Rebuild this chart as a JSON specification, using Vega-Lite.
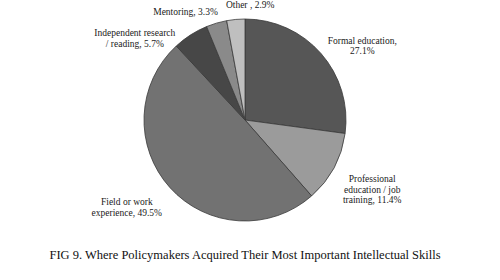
{
  "$schema": "https://vega.github.io/schema/vega-lite/v6.json",
  "width": 490,
  "height": 240,
  "autosize": {"type": "none"},
  "padding": {"left": 0, "top": 0, "right": 10, "bottom": 40},
  "background": "white",
  "title": {
    "text": "FIG 9. Where Policymakers Acquired Their Most Important Intellectual Skills",
    "orient": "bottom",
    "anchor": "middle",
    "font": "Liberation Serif",
    "fontSize": 12.5,
    "fontWeight": "normal",
    "color": "#111111",
    "baseline": "top",
    "offset": 9
  },
  "data": {
    "values": [
      {"order": 1, "source": "Formal education", "value": 27.1, "label": "Formal education,\n27.1%"},
      {"order": 2, "source": "Professional education / job training", "value": 11.4, "label": "Professional\neducation / job\ntraining, 11.4%"},
      {"order": 3, "source": "Field or work experience", "value": 49.5, "label": "Field or work\nexperience, 49.5%"},
      {"order": 4, "source": "Independent research / reading", "value": 5.7, "label": "Independent research\n/ reading, 5.7%"},
      {"order": 5, "source": "Mentoring", "value": 3.3, "label": "Mentoring, 3.3%"},
      {"order": 6, "source": "Other", "value": 2.9, "label": "Other , 2.9%"}
    ]
  },
  "encoding": {
    "theta": {"field": "value", "type": "quantitative", "stack": true},
    "order": {"field": "order", "type": "quantitative", "sort": "ascending"}
  },
  "layer": [
    {
      "mark": {"type": "arc", "outerRadius": 101, "stroke": "#3a3a3a", "strokeWidth": 0.8},
      "encoding": {
        "color": {
          "field": "source",
          "type": "nominal",
          "legend": null,
          "scale": {
            "domain": ["Formal education", "Professional education / job training", "Field or work experience", "Independent research / reading", "Mentoring", "Other"],
            "range": ["#565656", "#9b9b9b", "#727272", "#474747", "#8a8a8a", "#bfbfbf"]
          }
        }
      }
    },
    {
      "mark": {"type": "text", "radius": 108, "dx": 36, "dy": -8, "align": "center", "baseline": "middle", "lineBreak": "\n", "font": "Liberation Serif", "fontSize": 9.5, "lineHeight": 10.5, "color": "#1a1a1a"},
      "encoding": {"text": {"condition": {"test": "datum.order === 1", "field": "label"}, "value": ""}}
    },
    {
      "mark": {"type": "text", "radius": 108, "dx": 32, "dy": 8, "align": "center", "baseline": "middle", "lineBreak": "\n", "font": "Liberation Serif", "fontSize": 9.5, "lineHeight": 10.5, "color": "#1a1a1a"},
      "encoding": {"text": {"condition": {"test": "datum.order === 2", "field": "label"}, "value": ""}}
    },
    {
      "mark": {"type": "text", "radius": 108, "dx": -38, "dy": 10, "align": "center", "baseline": "middle", "lineBreak": "\n", "font": "Liberation Serif", "fontSize": 9.5, "lineHeight": 10.5, "color": "#1a1a1a"},
      "encoding": {"text": {"condition": {"test": "datum.order === 3", "field": "label"}, "value": ""}}
    },
    {
      "mark": {"type": "text", "radius": 108, "dx": -52, "dy": 4, "align": "center", "baseline": "middle", "lineBreak": "\n", "font": "Liberation Serif", "fontSize": 9.5, "lineHeight": 10.5, "color": "#1a1a1a"},
      "encoding": {"text": {"condition": {"test": "datum.order === 4", "field": "label"}, "value": ""}}
    },
    {
      "mark": {"type": "text", "radius": 108, "dx": -29, "dy": -4, "align": "center", "baseline": "middle", "lineBreak": "\n", "font": "Liberation Serif", "fontSize": 9.5, "lineHeight": 10.5, "color": "#1a1a1a"},
      "encoding": {"text": {"condition": {"test": "datum.order === 5", "field": "label"}, "value": ""}}
    },
    {
      "mark": {"type": "text", "radius": 108, "dx": 15, "dy": -7, "align": "center", "baseline": "middle", "lineBreak": "\n", "font": "Liberation Serif", "fontSize": 9.5, "lineHeight": 10.5, "color": "#1a1a1a"},
      "encoding": {"text": {"condition": {"test": "datum.order === 6", "field": "label"}, "value": ""}}
    }
  ]
}
